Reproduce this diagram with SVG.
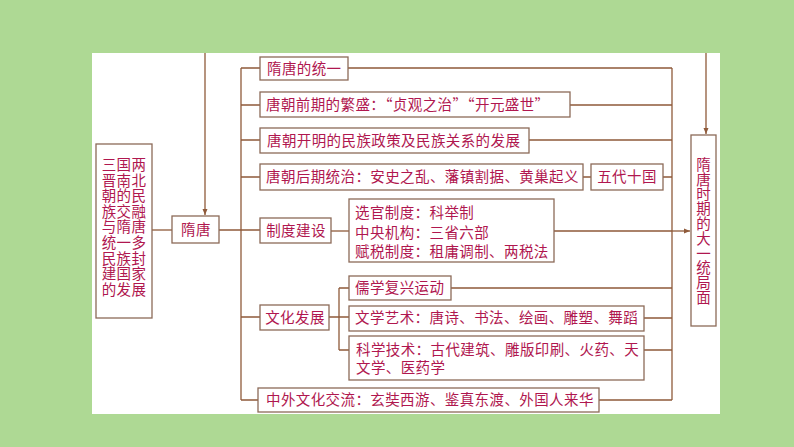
<svg xmlns="http://www.w3.org/2000/svg" width="794" height="447" viewBox="0 0 794 447">
<style>
.box{fill:#fff;stroke:#8c6a58;stroke-width:1.3}
.ln{fill:none;stroke:#8f5a3a;stroke-width:1.3}
text{font-family:"Noto Sans CJK SC","Noto Sans CJK TC",sans-serif;font-size:14.5px;letter-spacing:0.4px;fill:#b0174f}
.c{text-anchor:middle}
.v{writing-mode:vertical-rl;letter-spacing:0.3px}
.fw{font-feature-settings:"fwid" 1}
</style>
<defs>
<marker id="ar" markerWidth="7" markerHeight="6" refX="6" refY="3" orient="auto" markerUnits="userSpaceOnUse">
<path d="M0,0.5 L6,3 L0,5.5 Z" fill="#8f5a3a"/>
</marker>
</defs>
<rect x="0" y="0" width="794" height="447" fill="#aed994"/>
<rect x="92" y="53" width="628" height="361" fill="#fff"/>
<g id="connectors">
<path class="ln" d="M205,53 V215" marker-end="url(#ar)"/>
<path class="ln" d="M706,53 V134" marker-end="url(#ar)"/>
<path class="ln" d="M152,230 H172"/>
<path class="ln" d="M219,230 H260"/>
<path class="ln" d="M241,68 V400"/>
<path class="ln" d="M241,68 H260 M241,105 H260 M241,140 H260 M241,177 H260 M241,317 H260 M241,400 H258"/>
<path class="ln" d="M331,231 H349"/>
<path class="ln" d="M329,317 H349 M339,288 V350 M339,288 H349 M339,350 H349"/>
<path class="ln" d="M348,68 H672 M570,105 H672 M529,140 H672 M583,177 H591 M663,177 H672 M554,231 H672 M451,288 H672 M644,318 H672 M644,350 H672 M599,400 H672"/>
<path class="ln" d="M672,68 V400"/>
<path class="ln" d="M672,231 H690" marker-end="url(#ar)"/>
</g>
<g id="n-left">
<rect class="box" x="96" y="144" width="56" height="174"/>
<text class="c" x="124"><tspan x="124" y="170">三国两</tspan><tspan x="124" y="185.6">晋南北</tspan><tspan x="124" y="201.2">朝的民</tspan><tspan x="124" y="216.8">族交融</tspan><tspan x="124" y="232.4">与隋唐</tspan><tspan x="124" y="248">统一多</tspan><tspan x="124" y="263.6">民族封</tspan><tspan x="124" y="279.2">建国家</tspan><tspan x="124" y="294.8">的发展</tspan></text>
</g>
<g id="n-suitang">
<rect class="box" x="172" y="216" width="47" height="27"/>
<text class="c" x="196" y="235">隋唐</text>
</g>
<g id="n-unify">
<rect class="box" x="260" y="57" width="88" height="23"/>
<text x="267" y="73.5">隋唐的统一</text>
</g>
<g id="n-early">
<rect class="box" x="260" y="92" width="310" height="25"/>
<text class="fw" x="266" y="109.5">唐朝前期的繁盛：“贞观之治”“开元盛世”</text>
</g>
<g id="n-ethnic">
<rect class="box" x="260" y="128" width="269" height="25"/>
<text x="267" y="145.5">唐朝开明的民族政策及民族关系的发展</text>
</g>
<g id="n-late">
<rect class="box" x="260" y="164" width="323" height="26"/>
<text x="266" y="182">唐朝后期统治：安史之乱、藩镇割据、黄巢起义</text>
</g>
<g id="n-wudai">
<rect class="box" x="591" y="164" width="72" height="26"/>
<text class="c" x="627" y="182">五代十国</text>
</g>
<g id="n-system">
<rect class="box" x="260" y="218" width="71" height="25"/>
<text class="c" x="296" y="235.5">制度建设</text>
</g>
<g id="n-system-detail">
<rect class="box" x="349" y="199" width="205" height="63"/>
<text x="355" y="218">选官制度：科举制</text>
<text x="355" y="237.5">中央机构：三省六部</text>
<text x="355" y="257">赋税制度：租庸调制、两税法</text>
</g>
<g id="n-culture">
<rect class="box" x="260" y="305" width="69" height="25"/>
<text class="c" x="295" y="322.5">文化发展</text>
</g>
<g id="n-confucian">
<rect class="box" x="349" y="276" width="102" height="24"/>
<text x="355" y="293">儒学复兴运动</text>
</g>
<g id="n-arts">
<rect class="box" x="349" y="306" width="295" height="25"/>
<text x="355" y="323">文学艺术：唐诗、书法、绘画、雕塑、舞蹈</text>
</g>
<g id="n-science">
<rect class="box" x="349" y="336" width="295" height="44"/>
<text x="356" y="354.5">科学技术：古代建筑、雕版印刷、火药、天</text>
<text x="356" y="372.5">文学、医药学</text>
</g>
<g id="n-exchange">
<rect class="box" x="258" y="388" width="341" height="24"/>
<text x="266" y="405">中外文化交流：玄奘西游、鉴真东渡、外国人来华</text>
</g>
<g id="n-result">
<rect class="box" x="691" y="135" width="25" height="191"/>
<text class="v" x="703.5" y="157">隋唐时期的大一统局面</text>
</g>
</svg>
